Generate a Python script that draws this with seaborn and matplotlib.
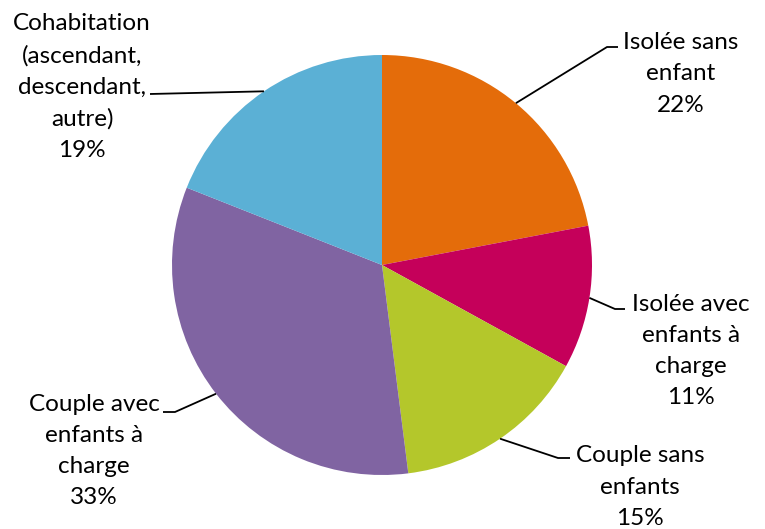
import numpy as np
import matplotlib
matplotlib.use("Agg")
import matplotlib.pyplot as plt
import seaborn as sns

# Household composition shares (%)
categories = [
    "Isolée sans\nenfant",
    "Isolée avec\nenfants à\ncharge",
    "Couple sans\nenfants",
    "Couple avec\nenfants à\ncharge",
    "Cohabitation\n(ascendant,\ndescendant,\nautre)",
]
shares = [22, 11, 15, 33, 19]
colors = ["#E46C0A", "#C5005A", "#B4C72B", "#8064A2", "#5BB0D5"]

sns.set_theme(style="white")
plt.rcParams["font.family"] = ["Lato", "DejaVu Sans"]

W, H = 765, 529
fig = plt.figure(figsize=(W / 100, H / 100), dpi=100)
ax = fig.add_axes([0, 0, 1, 1])

# Pie geometry in pixels, converted to data units (radius = 1)
cx, cy, R = 382, 265, 210


def px(x, y):
    return (x - cx) / R, (cy - y) / R


wedges, _ = ax.pie(
    shares,
    colors=sns.color_palette(colors),
    startangle=90,
    counterclock=False,
    radius=1,
    center=(0, 0),
    wedgeprops=dict(linewidth=0),
)

# Label placement: text centre, elbow point, elbow end near text
label_layout = [
    dict(text=(681, 74), elbow=(607, 47), end=(618, 47)),
    dict(text=(691, 351), elbow=(615, 309), end=(625, 309)),
    dict(text=(640, 487), elbow=(558, 458), end=(570, 458)),
    dict(text=(94, 451), elbow=(175, 412), end=(163, 412)),
    dict(text=(82, 87), elbow=(150, 94), end=(150, 94)),
]

cum = np.cumsum([0] + shares)
for i, (cat, val, lay) in enumerate(zip(categories, shares, label_layout)):
    mid = (cum[i] + val / 2) / 100 * 2 * np.pi
    ex, ey = np.sin(mid), np.cos(mid)
    bx, by = px(*lay["elbow"])
    tx, ty = px(*lay["end"])
    ax.plot([ex, bx, tx], [ey, by, ty], color="black", lw=1.3,
            solid_capstyle="butt", zorder=3)
    lx, ly = px(*lay["text"])
    ax.text(lx, ly, f"{cat}\n{val}%", ha="center", va="center",
            fontsize=17.5, linespacing=1.6, color="black")

ax.set_xlim(-cx / R, (W - cx) / R)
ax.set_ylim(-(H - cy) / R, cy / R)
ax.set_aspect("equal")
ax.axis("off")

fig.savefig("out.png", dpi=100, facecolor="white")
